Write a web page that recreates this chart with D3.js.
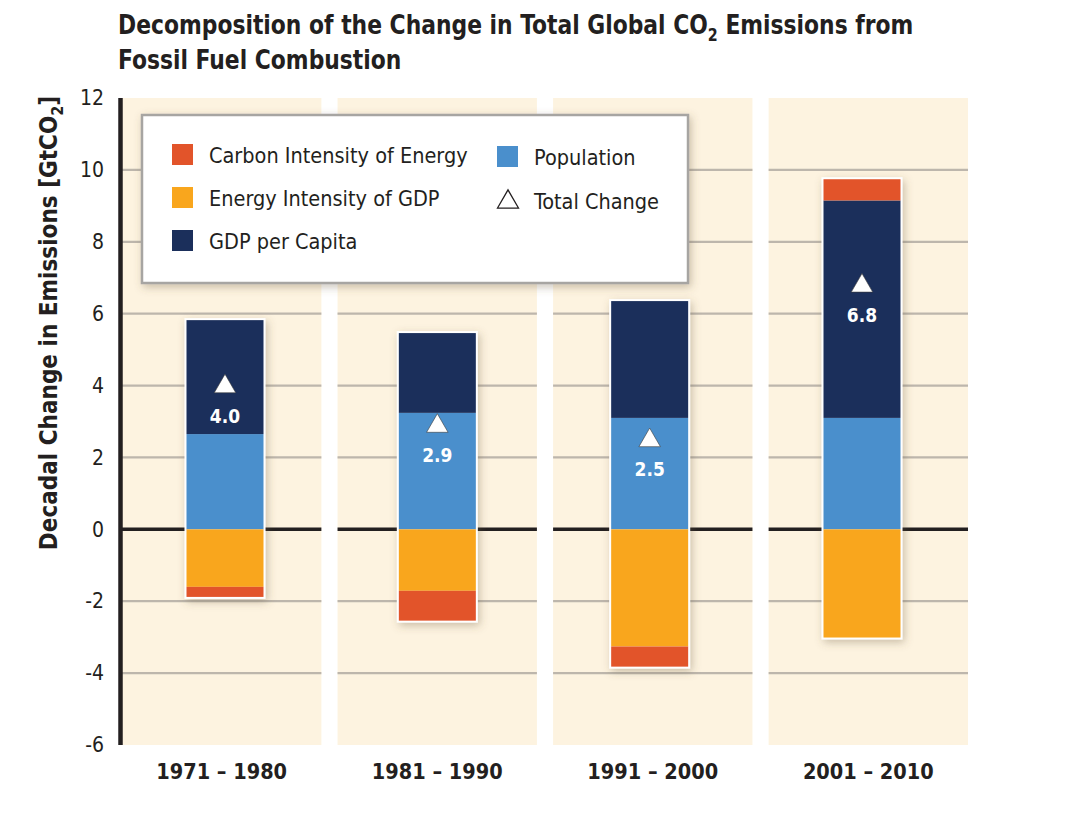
<!DOCTYPE html>
<html>
<head>
<meta charset="utf-8">
<script src="https://cdn.jsdelivr.net/npm/d3@7"></script>
<style>
  body { margin: 0; background: #fff; }
  svg { display: block; }
</style>
</head>
<body>
<div id="chart"></div>
<script>
// data (GtCO2 per decade)
const periods = ["1971 – 1980", "1981 – 1990", "1991 – 2000", "2001 – 2010"];
const population = [2.65, 3.24, 3.1, 3.1];
const gdpPerCapita = [3.17, 2.22, 3.25, 6.05];
const energyIntensity = [-1.6, -1.71, -3.26, -3.01];
const carbonIntensity = [-0.28, -0.83, -0.56, 0.59];
const totalChange = [4.0, 2.9, 2.5, 6.8];
const yTicks = [-6, -4, -2, 0, 2, 4, 6, 8, 10, 12];

const keys = ["population", "gdp", "energy", "carbon"];
const colors = {
    carbon: "#E2542A",
    energy: "#F9A61D",
    gdp: "#1B2F5B",
    population: "#4A8FCC"
};

const width = 1068, height = 825;
const FONT = "'DejaVu Sans Condensed', 'Liberation Sans Narrow', 'Open Sans', sans-serif";

const rows = periods.map((p, i) => ({
    period: p,
    population: population[i],
    gdp: gdpPerCapita[i],
    energy: energyIntensity[i],
    carbon: carbonIntensity[i],
    total: totalChange[i]
}));

const stacked = d3.stack()
    .keys(keys)
    .offset(d3.stackOffsetDiverging)(rows);

// background panels
const x = d3.scaleBand()
    .domain(periods)
    .range([122, 968])
    .paddingInner(0.075)
    .paddingOuter(0);

// bar centres (the bars are not exactly centred in the panels)
const xBar = d3.scalePoint()
    .domain(periods)
    .range([225, 862]);

const y = d3.scaleLinear()
    .domain([-6, 12])
    .range([745, 98]);

const barW = 77;
const mid = p => x(p) + x.bandwidth() / 2;

const svg = d3.select("#chart")
    .append("svg")
    .attr("width", width)
    .attr("height", height)
    .attr("font-family", FONT);

const defs = svg.append("defs");
const shadow = defs.append("filter")
    .attr("id", "shadow")
    .attr("x", "-30%").attr("y", "-30%")
    .attr("width", "160%").attr("height", "160%");
shadow.append("feDropShadow")
    .attr("dx", 2).attr("dy", 3)
    .attr("stdDeviation", 4)
    .attr("flood-color", "#6b5a3a")
    .attr("flood-opacity", 0.35);

// title (condensed a little to match the original face)
const title = svg.append("text")
    .attr("transform", "translate(118,0) scale(0.935,1)")
    .attr("font-size", 26)
    .attr("font-weight", "bold")
    .attr("fill", "#231F20");
const t1 = title.append("tspan").attr("x", 0).attr("y", 34);
t1.append("tspan").text("Decomposition of the Change in Total Global CO");
t1.append("tspan").attr("font-size", 17).attr("dy", 7).text("2");
t1.append("tspan").attr("dy", -7).text(" Emissions from");
title.append("tspan").attr("x", 0).attr("y", 69).text("Fossil Fuel Combustion");

// panels
svg.append("g")
    .selectAll("rect")
    .data(periods)
    .join("rect")
    .attr("x", d => x(d))
    .attr("y", y(12))
    .attr("width", x.bandwidth())
    .attr("height", y(-6) - y(12))
    .attr("fill", "#FDF3E0");

// grid lines, per panel
const grid = svg.append("g");
periods.forEach(p => {
    grid.append("g")
        .selectAll("line")
        .data(yTicks.filter(t => t !== 0 && t !== 12 && t !== -6))
        .join("line")
        .attr("x1", x(p))
        .attr("x2", x(p) + x.bandwidth())
        .attr("y1", d => y(d))
        .attr("y2", d => y(d))
        .attr("stroke", "#BDB6AC")
        .attr("stroke-width", 2.2);
    grid.append("line")
        .attr("x1", x(p))
        .attr("x2", x(p) + x.bandwidth())
        .attr("y1", y(0))
        .attr("y2", y(0))
        .attr("stroke", "#231F20")
        .attr("stroke-width", 3.5);
});

// y axis
svg.append("line")
    .attr("x1", 120.5).attr("x2", 120.5)
    .attr("y1", y(12)).attr("y2", y(-6))
    .attr("stroke", "#231F20")
    .attr("stroke-width", 4.5);

const yAxis = svg.append("g")
    .attr("transform", "translate(104,0)")
    .call(d3.axisLeft(y).tickValues(yTicks).tickSize(0).tickPadding(0)
        .tickFormat(d => String(d)));
yAxis.select(".domain").remove();
yAxis.selectAll("text")
    .attr("font-family", FONT)
    .attr("font-size", 21)
    .attr("fill", "#231F20");

const yTitle = svg.append("text")
    .attr("transform", "translate(57,323) rotate(-90)")
    .attr("text-anchor", "middle")
    .attr("font-size", 24)
    .attr("font-weight", "bold")
    .attr("fill", "#231F20");
yTitle.append("tspan").text("Decadal Change in Emissions [GtCO");
yTitle.append("tspan").attr("font-size", 16).attr("dy", 6).text("2");
yTitle.append("tspan").attr("dy", -6).text("]");

// x labels
svg.append("g")
    .selectAll("text")
    .data(periods)
    .join("text")
    .attr("x", d => mid(d))
    .attr("y", 779)
    .attr("text-anchor", "middle")
    .attr("font-size", 21.5)
    .attr("font-weight", "bold")
    .attr("fill", "#231F20")
    .text(d => d);

// bars
const barGroups = svg.append("g");
// shadow + white outline behind each full bar
barGroups.selectAll("rect.bg")
    .data(rows)
    .join("rect")
    .attr("class", "bg")
    .attr("x", d => xBar(d.period) - barW / 2 - 2)
    .attr("y", d => y(d.population + d.gdp + Math.max(0, d.carbon)) - 2)
    .attr("width", barW + 4)
    .attr("height", d => y(d.energy + Math.min(0, d.carbon)) - y(d.population + d.gdp + Math.max(0, d.carbon)) + 4)
    .attr("fill", "#fff")
    .attr("filter", "url(#shadow)");

barGroups.selectAll("g")
    .data(stacked)
    .join("g")
    .attr("fill", d => colors[d.key])
    .selectAll("rect")
    .data(d => d)
    .join("rect")
    .attr("x", d => xBar(d.data.period) - barW / 2)
    .attr("y", d => y(d[1]))
    .attr("width", barW)
    .attr("height", d => Math.abs(y(d[0]) - y(d[1])));

// total change triangles + labels
const tri = d3.symbol().type(d3.symbolTriangle).size(200);
const totals = svg.append("g");
totals.selectAll("path")
    .data(rows)
    .join("path")
    .attr("d", tri)
    .attr("transform", d => `translate(${xBar(d.period)},${y(d.total) + 1})`)
    .attr("fill", "#fff")
    .attr("stroke", "#3a3a3a")
    .attr("stroke-width", 0.6);
totals.selectAll("text")
    .data(rows)
    .join("text")
    .attr("x", d => xBar(d.period))
    .attr("y", d => y(d.total) + 37)
    .attr("text-anchor", "middle")
    .attr("font-size", 19)
    .attr("font-weight", "bold")
    .attr("fill", "#fff")
    .text(d => d3.format(".1f")(d.total));

// legend
const legend = svg.append("g").attr("transform", "translate(142,115)");
legend.append("rect")
    .attr("width", 546)
    .attr("height", 168)
    .attr("fill", "#fff")
    .attr("stroke", "#A7A5A2")
    .attr("stroke-width", 2.5)
    .attr("filter", "url(#shadow)");

const legendItems = [
    { key: "carbon", label: "Carbon Intensity of Energy", col: 0, row: 0 },
    { key: "energy", label: "Energy Intensity of GDP", col: 0, row: 1 },
    { key: "gdp", label: "GDP per Capita", col: 0, row: 2 },
    { key: "population", label: "Population", col: 1, row: 0 },
    { key: "total", label: "Total Change", col: 1, row: 1 }
];
const colX = [30, 355];
const rowY = [40, 83, 126];
const rowY2 = [42, 86];

const li = legend.selectAll("g.item")
    .data(legendItems)
    .join("g")
    .attr("class", "item")
    .attr("transform", d => `translate(${colX[d.col]},${d.col === 0 ? rowY[d.row] : rowY2[d.row]})`);

li.filter(d => d.key !== "total")
    .append("rect")
    .attr("x", 0).attr("y", -11)
    .attr("width", 21).attr("height", 21)
    .attr("fill", d => colors[d.key]);

li.filter(d => d.key === "total")
    .append("path")
    .attr("d", d3.symbol().type(d3.symbolTriangle).size(190))
    .attr("transform", "translate(11,1)")
    .attr("fill", "#fff")
    .attr("stroke", "#231F20")
    .attr("stroke-width", 1.3);

li.append("text")
    .attr("x", 37)
    .attr("y", 8)
    .attr("font-size", 21.5)
    .attr("fill", "#231F20")
    .text(d => d.label);
</script>
</body>
</html>
